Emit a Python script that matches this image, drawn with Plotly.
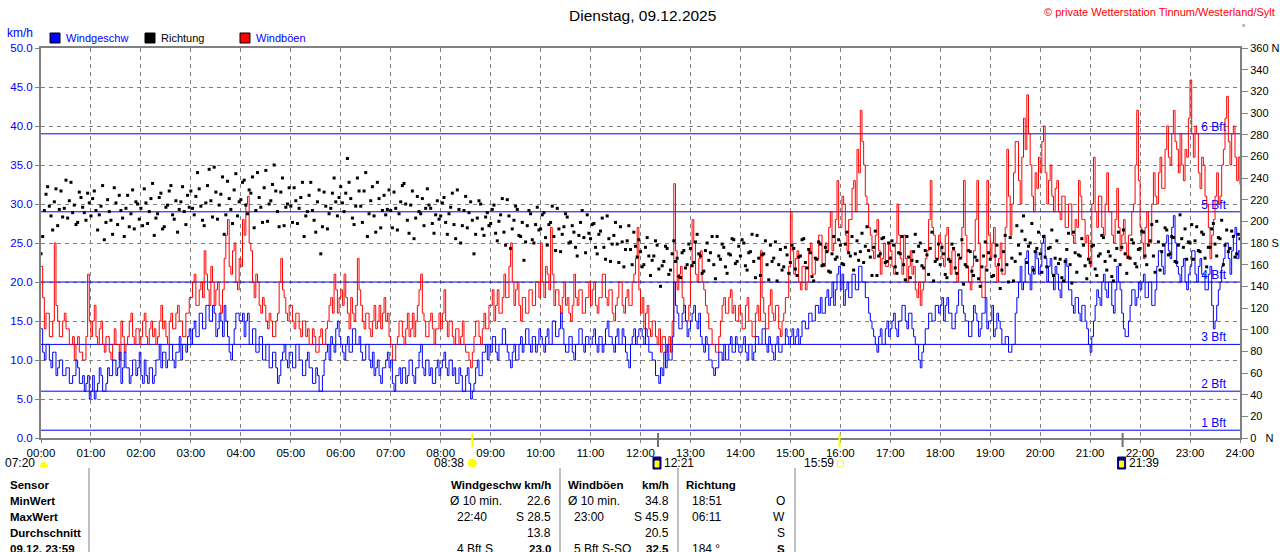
import plotly.graph_objects as go

# Tagesgrafik Wind, Werte alle 2 Minuten
title_text = "Dienstag, 09.12.2025"
copyright_text = "© private Wetterstation Tinnum/Westerland/Sylt"
step_min = 2

wind_kmh = [
    14, 11, 10, 12, 12, 10, 9, 11, 11, 8, 9, 10, 10, 8, 8, 9, 9, 7, 7, 8, 8, 10, 9, 7, 7, 8, 6, 7, 8, 5,  # 00
    6, 8, 5, 6, 7, 9, 8, 6, 6, 7, 9, 8, 8, 10, 10, 8, 9, 11, 7, 9, 11, 9, 9, 7, 8, 10, 10, 8, 9, 11,  # 01
    8, 7, 10, 8, 7, 9, 9, 7, 8, 10, 10, 12, 9, 11, 11, 9, 10, 12, 12, 10, 9, 11, 11, 13, 10, 12, 12, 11, 13, 14,  # 02
    12, 14, 15, 13, 13, 16, 16, 14, 14, 17, 17, 15, 15, 17, 16, 13, 14, 16, 15, 13, 17, 15, 13, 11, 10, 12, 14, 16, 16, 15,  # 03
    15, 16, 13, 15, 16, 12, 12, 14, 14, 11, 11, 13, 13, 10, 10, 12, 12, 9, 9, 11, 11, 9, 7, 8, 10, 11, 12, 10, 9, 11,  # 04
    11, 9, 9, 12, 12, 10, 10, 8, 8, 10, 11, 9, 9, 7, 7, 9, 8, 6, 6, 8, 10, 11, 12, 10, 13, 12, 11, 14, 15, 13,  # 05
    12, 11, 10, 12, 13, 11, 11, 14, 14, 12, 12, 13, 11, 10, 10, 12, 12, 10, 9, 11, 8, 9, 10, 8, 7, 9, 9, 10, 11, 9,  # 06
    10, 7, 6, 8, 8, 9, 7, 9, 9, 7, 8, 10, 10, 8, 7, 9, 9, 11, 12, 9, 8, 10, 10, 8, 9, 7, 7, 9, 10, 8,  # 07
    9, 10, 11, 9, 8, 10, 10, 8, 9, 7, 7, 9, 8, 6, 6, 8, 9, 7, 5, 6, 7, 9, 10, 8, 8, 11, 11, 12, 10, 12,  # 08
    11, 13, 13, 11, 10, 12, 12, 14, 14, 12, 11, 10, 9, 11, 12, 10, 10, 12, 13, 11, 12, 14, 14, 12, 11, 13, 13, 11, 12, 14,  # 09
    13, 12, 11, 13, 14, 12, 12, 15, 15, 13, 13, 14, 16, 14, 12, 11, 11, 13, 13, 11, 10, 12, 12, 14, 14, 12, 11, 13, 13, 12,  # 10
    12, 13, 14, 12, 11, 13, 13, 11, 12, 14, 15, 13, 13, 12, 11, 13, 14, 12, 12, 14, 13, 11, 10, 9, 12, 13, 14, 12, 13, 14,  # 11
    14, 13, 12, 14, 13, 11, 11, 10, 10, 8, 8, 7, 9, 8, 11, 9, 12, 10, 10, 13, 20, 17, 16, 14, 14, 16, 17, 15, 13, 14,  # 12
    15, 16, 17, 15, 14, 16, 13, 12, 11, 13, 12, 10, 10, 9, 8, 9, 9, 11, 11, 10, 12, 10, 10, 12, 13, 11, 11, 13, 12, 11,  # 13
    11, 12, 13, 11, 10, 12, 12, 10, 11, 13, 13, 12, 12, 14, 14, 12, 11, 13, 12, 11, 10, 12, 13, 11, 11, 12, 12, 14, 13, 12,  # 14
    13, 14, 12, 13, 14, 12, 13, 15, 15, 14, 14, 16, 16, 15, 15, 17, 17, 16, 18, 16, 16, 18, 19, 17, 18, 20, 17, 19, 21, 22,  # 15
    19, 21, 17, 19, 20, 18, 18, 21, 21, 19, 19, 22, 22, 20, 20, 18, 18, 16, 15, 14, 13, 12, 11, 13, 14, 12, 12, 14, 15, 13,  # 16
    14, 15, 16, 14, 13, 15, 15, 17, 17, 15, 14, 16, 16, 14, 13, 12, 12, 10, 9, 11, 12, 14, 14, 16, 16, 15, 15, 17, 17, 16,  # 17
    17, 18, 15, 17, 18, 16, 16, 14, 14, 16, 17, 19, 19, 17, 16, 15, 15, 13, 13, 15, 17, 16, 15, 13, 14, 16, 16, 18, 14, 15,  # 18
    15, 17, 13, 14, 16, 15, 14, 12, 12, 13, 13, 11, 11, 12, 12, 16, 18, 20, 22, 19, 20, 23, 24, 21, 19, 22, 21, 24, 23, 21,  # 19
    22, 25, 26, 23, 20, 22, 23, 21, 19, 22, 21, 19, 18, 20, 20, 23, 22, 19, 19, 17, 16, 18, 18, 16, 15, 17, 17, 15, 14, 12,  # 20
    11, 13, 15, 17, 19, 18, 17, 20, 21, 19, 18, 20, 20, 17, 16, 19, 22, 20, 19, 16, 14, 13, 13, 15, 17, 19, 19, 17, 18, 20,  # 21
    19, 20, 21, 18, 18, 20, 20, 17, 17, 19, 22, 24, 24, 22, 21, 25, 26, 24, 23, 27, 28.5, 25, 22, 21, 20, 22, 23, 20, 19, 21,  # 22
    22, 24, 24, 21, 20, 22, 23, 21, 21, 19, 19, 21, 22, 17, 14, 15, 17, 19, 20, 22, 23, 25, 25, 23, 21, 24, 26, 27, 23, 24,  # 23
    23.0,
]

gust_kmh = [
    22, 18, 14, 16, 16, 13, 13, 15, 25, 17, 15, 13, 13, 15, 16, 14, 14, 12, 12, 13, 10, 12, 13, 11, 11, 10, 10, 13, 21, 15,  # 00
    13, 15, 17, 13, 12, 14, 15, 12, 11, 13, 13, 11, 10, 12, 14, 12, 12, 10, 15, 13, 11, 12, 13, 15, 16, 13, 12, 14, 14, 12,  # 01
    13, 15, 16, 13, 12, 14, 15, 13, 14, 12, 13, 15, 17, 14, 15, 13, 12, 15, 16, 14, 14, 16, 17, 15, 15, 13, 13, 16, 16, 18,  # 02
    18, 20, 21, 17, 17, 19, 20, 18, 24, 21, 19, 17, 22, 20, 17, 19, 20, 17, 16, 19, 23, 26, 28, 22, 21, 24, 25, 20, 19, 23,  # 03
    22, 28, 26, 30, 31, 25, 24, 20, 18, 21, 20, 17, 16, 18, 17, 15, 14, 16, 15, 13, 13, 15, 16, 20, 23, 19, 18, 16, 15, 17,  # 04
    17, 15, 14, 16, 16, 14, 13, 15, 15, 13, 14, 12, 12, 14, 13, 11, 11, 13, 14, 12, 12, 14, 15, 17, 18, 16, 21, 19, 16, 18,  # 05
    19, 17, 21, 18, 16, 14, 18, 16, 15, 17, 23, 19, 17, 15, 14, 16, 16, 14, 13, 15, 17, 14, 15, 17, 14, 16, 18, 15, 16, 13,  # 06
    12, 10, 10, 12, 13, 15, 15, 13, 12, 14, 16, 13, 14, 16, 13, 15, 17, 19, 21, 16, 15, 13, 13, 15, 16, 14, 12, 14, 14, 16,  # 07
    14, 16, 19, 15, 13, 15, 15, 13, 12, 14, 14, 12, 13, 15, 12, 11, 11, 10, 9, 11, 13, 15, 15, 13, 12, 14, 16, 14, 14, 17,  # 08
    17, 19, 15, 17, 19, 16, 16, 18, 21, 18, 18, 22, 25, 20, 17, 19, 20, 17, 15, 18, 18, 16, 16, 19, 19, 17, 17, 20, 20, 18,  # 09
    25, 20, 18, 22, 21, 19, 27, 21, 17, 19, 19, 17, 16, 18, 20, 17, 18, 16, 15, 17, 21, 18, 17, 19, 19, 16, 16, 18, 18, 20,  # 10
    17, 19, 20, 17, 16, 18, 18, 21, 21, 18, 17, 19, 19, 16, 15, 17, 18, 20, 20, 17, 16, 18, 19, 17, 17, 20, 21, 23, 27, 19,  # 11
    16, 18, 14, 16, 17, 14, 13, 15, 15, 13, 12, 14, 11, 13, 13, 11, 12, 13, 11, 15, 32.6, 24, 19, 21, 22, 18, 17, 15, 15, 17,  # 12
    22, 28, 25, 21, 20, 23, 24, 20, 19, 17, 16, 14, 14, 12, 12, 11, 11, 13, 15, 17, 18, 16, 16, 18, 19, 16, 17, 15, 15, 17,  # 13
    16, 14, 14, 17, 18, 15, 15, 13, 13, 16, 17, 15, 24, 18, 16, 14, 14, 17, 19, 16, 15, 17, 17, 14, 13, 15, 16, 18, 18, 22,  # 14
    29, 24, 21, 23, 24, 20, 19, 22, 22, 19, 20, 24, 25, 21, 21, 23, 23, 26, 26, 22, 22, 25, 24, 27, 29, 24, 25, 28, 33, 27,  # 15
    27, 31, 30, 26, 24, 28, 28, 32, 33, 29, 37, 34, 42, 38, 35, 31, 30, 27, 26, 24, 23, 26, 28, 24, 21, 23, 25, 22, 22, 25,  # 16
    24, 22, 21, 25, 30, 26, 23, 21, 26, 23, 20, 22, 24, 21, 22, 19, 18, 20, 17, 19, 20, 23, 24, 28, 33, 27, 26, 23, 23, 26,  # 17
    25, 23, 22, 26, 27, 23, 21, 24, 24, 21, 20, 23, 23, 27, 33, 26, 22, 20, 19, 22, 24, 28, 33, 25, 20, 18, 18, 22, 33, 26,  # 18
    23, 25, 27, 22, 20, 23, 25, 21, 21, 27, 37, 31, 26, 30, 34, 38, 38, 33, 30, 36, 41, 37, 44, 39, 35, 31, 29, 34, 32, 36,  # 19
    34, 38, 40, 34, 30, 33, 35, 31, 29, 32, 33, 29, 28, 31, 31, 27, 27, 30, 30, 26, 25, 28, 27, 33, 31, 28, 28, 25, 26, 23,  # 20
    22, 30, 36, 29, 27, 31, 31, 27, 26, 30, 34, 29, 29, 26, 25, 28, 32, 27, 24, 26, 28, 25, 23, 26, 26, 29, 30, 35, 42, 33,  # 21
    27, 25, 23, 27, 29, 25, 25, 30, 34, 31, 30, 34, 36, 32, 32, 37, 40, 36, 35, 39, 42, 38, 37, 34, 39, 35, 33, 37, 36, 41,  # 22
    45.9, 39, 36, 40, 39, 34, 32, 36, 35, 31, 30, 27, 23, 26, 28, 31, 34, 30, 31, 35, 37, 41, 43.8, 38, 35, 39, 40, 36, 33, 36,  # 23
    32.5,
]

dir_deg = [
    170, 186, 210, 225, 232, 214, 205, 192, 218, 230, 196, 211, 228, 204, 212, 238, 203, 219, 236, 208, 215, 197, 199, 227, 222, 213, 208, 201, 226, 217,  # 00
    205, 221, 228, 210, 192, 206, 214, 233, 183, 199, 220, 209, 201, 188, 231, 217, 197, 224, 210, 203, 186, 212, 224, 195, 207, 229, 193, 218, 216, 202,  # 01
    212, 196, 230, 217, 198, 209, 221, 235, 187, 203, 207, 222, 226, 193, 195, 213, 215, 228, 233, 206, 202, 219, 190, 211, 218, 232, 209, 197, 224, 213,  # 02
    228, 212, 206, 223, 245, 230, 214, 201, 196, 217, 233, 248, 219, 204, 250, 227, 202, 215, 225, 241, 188, 206, 237, 221, 211, 198, 229, 244, 205, 218,  # 03
    220, 236, 238, 215, 207, 229, 226, 241, 194, 210, 245, 222, 213, 199, 231, 247, 200, 216, 219, 234, 252, 228, 209, 195, 227, 240, 196, 213, 216, 231,  # 04
    214, 199, 231, 219, 198, 212, 222, 236, 186, 205, 209, 224, 236, 210, 201, 190, 218, 229, 170, 195, 227, 214, 193, 207, 212, 226, 240, 218, 205, 222,  # 05
    232, 217, 209, 226, 258, 236, 221, 203, 197, 214, 240, 228, 214, 199, 228, 245, 186, 207, 219, 232, 205, 190, 236, 221, 194, 210, 224, 206, 211, 229,  # 06
    210, 194, 227, 212, 192, 207, 218, 233, 235, 216, 201, 189, 215, 228, 184, 203, 223, 209, 207, 221, 196, 212, 230, 215, 212, 198, 189, 206, 219, 202,  # 07
    205, 217, 222, 199, 188, 207, 213, 226, 197, 184, 229, 211, 180, 196, 210, 223, 194, 208, 218, 201, 170, 188, 203, 219, 216, 193, 187, 204, 208, 196,  # 08
    198, 211, 215, 189, 182, 200, 206, 221, 190, 178, 220, 205, 175, 193, 201, 214, 211, 187, 186, 199, 164, 181, 196, 210, 207, 183, 180, 197, 213, 192,  # 09
    193, 206, 208, 185, 178, 197, 199, 214, 186, 173, 212, 193, 172, 188, 195, 207, 204, 180, 181, 196, 190, 176, 168, 187, 199, 210, 185, 171, 206, 189,  # 10
    184, 197, 198, 176, 170, 188, 191, 203, 176, 165, 205, 184, 163, 179, 187, 199, 179, 162, 195, 181, 158, 174, 182, 196, 174, 160, 190, 177, 167, 183,  # 11
    172, 158, 160, 176, 185, 168, 150, 164, 168, 182, 178, 156, 140, 159, 163, 177, 175, 151, 155, 170, 182, 163, 166, 149, 148, 171, 173, 157, 160, 179,  # 12
    175, 159, 162, 181, 188, 170, 168, 152, 154, 173, 180, 164, 171, 186, 160, 147, 186, 168, 165, 179, 176, 158, 152, 170, 169, 184, 183, 161, 163, 177,  # 13
    168, 183, 180, 159, 155, 171, 172, 188, 163, 148, 187, 166, 150, 169, 170, 182, 160, 146, 178, 163, 166, 181, 145, 160, 174, 155, 158, 176, 169, 152,  # 14
    162, 178, 175, 156, 150, 167, 168, 183, 184, 162, 157, 174, 171, 149, 145, 166, 165, 181, 179, 159, 160, 176, 172, 154, 153, 170, 186, 165, 167, 183,  # 15
    178, 161, 160, 179, 190, 171, 168, 186, 155, 170, 182, 164, 172, 189, 162, 177, 195, 173, 167, 150, 176, 191, 150, 168, 170, 184, 185, 162, 163, 180,  # 16
    166, 182, 178, 158, 152, 171, 170, 186, 160, 146, 186, 167, 148, 164, 172, 188, 163, 177, 180, 159, 157, 173, 169, 151, 175, 190, 145, 163, 165, 179,  # 17
    160, 176, 170, 151, 148, 165, 163, 179, 175, 157, 152, 169, 166, 183, 142, 160, 158, 173, 172, 154, 150, 167, 164, 147, 140, 158, 168, 181, 155, 171,  # 18
    165, 149, 150, 168, 178, 160, 138, 155, 172, 187, 160, 144, 185, 166, 145, 163, 196, 178, 170, 191, 205, 183, 162, 177, 180, 198, 155, 172, 175, 190,  # 19
    170, 153, 186, 167, 158, 175, 176, 192, 150, 166, 182, 161, 165, 148, 145, 163, 174, 189, 160, 143, 190, 171, 153, 169, 168, 184, 178, 159, 147, 165,  # 20
    162, 177, 178, 156, 150, 168, 170, 187, 185, 163, 155, 172, 168, 149, 145, 164, 175, 190, 160, 176, 192, 170, 152, 167, 166, 183, 180, 161, 158, 174,  # 21
    175, 191, 190, 168, 160, 178, 182, 197, 168, 153, 200, 181, 155, 172, 178, 194, 192, 169, 170, 186, 185, 163, 162, 178, 206, 184, 176, 193, 165, 181,  # 22
    180, 197, 165, 182, 195, 173, 172, 190, 188, 166, 158, 176, 176, 193, 198, 179, 168, 185, 184, 201, 160, 178, 192, 172, 175, 191, 186, 167, 170, 188,  # 23
    184,
]

# Beaufort-Grenzen in km/h
bft_kmh = [1, 6, 12, 20, 29, 39]
bft_names = ["1 Bft", "2 Bft", "3 Bft", "4 Bft", "5 Bft", "6 Bft"]

hour_labels = ["%02d:00" % h for h in range(25)]
dir_ticks = list(range(0, 361, 20))
dir_labels = [str(d) for d in dir_ticks]
dir_labels[0] = "0\u00a0\u00a0\u00a0N"
dir_labels[9] = "180 S"
dir_labels[18] = "360 N"

# Sonnen-/Mondzeiten
sun_rise, sun_set = "08:38", "15:59"
moon_set, moon_rise = "12:21", "21:39"
dawn = "07:20"

# Tabelle unten
tab_sensor = ["Sensor", "MinWert", "MaxWert", "Durchschnitt", "09.12. 23:59"]
wg_left = ["", "Ø 10 min.", "22:40", "", "4 Bft S"]
wg_right = ["Windgeschw km/h", "22.6", "S 28.5", "13.8", "23.0"]
wb_left = ["Windböen", "Ø 10 min.", "23:00", "", "5 Bft S-SO"]
wb_right = ["km/h", "34.8", "S 45.9", "20.5", "32.5"]
ri_left = ["Richtung", "18:51", "06:11", "", "184 °"]
ri_right = ["", "O", "W", "S", "S"]

FONT = "Liberation Sans, Arial, sans-serif"
GRAY = "#808080"
BLUE = "#0000FF"
RED = "#FF0000"

L, R, T, B = 41, 1240, 48, 438


def hm(s):
    h, m = s.split(":")
    return int(h) + int(m) / 60


def pxx(px):
    return (px - L) / (R - L)


def pxy(py):
    return (B - py) / (B - T)


t = [i * step_min / 60 for i in range(len(wind_kmh))]

fig = go.Figure()

# Beaufort-Linien und Beschriftung (unter den Messwerten)
for v in bft_kmh:
    fig.add_trace(go.Scatter(x=[0, 24], y=[v, v], mode="lines",
                             line=dict(color=BLUE, width=1), hoverinfo="skip"))
fig.add_trace(go.Scatter(x=[23.72] * len(bft_kmh), y=bft_kmh, mode="text",
                         text=bft_names, textposition="top left",
                         textfont=dict(family=FONT, size=12, color=BLUE),
                         hoverinfo="skip", cliponaxis=False))

fig.add_trace(go.Scatter(x=t, y=gust_kmh, mode="lines", name="Windböen",
                         line=dict(color=RED, width=1, shape="hv")))
fig.add_trace(go.Scatter(x=t, y=wind_kmh, mode="lines", name="Windgeschw",
                         line=dict(color=BLUE, width=1, shape="hv")))
fig.add_trace(go.Scatter(x=t, y=dir_deg, mode="markers", name="Richtung",
                         yaxis="y2",
                         marker=dict(color="black", size=3, symbol="square",
                                     line=dict(width=0))))

shapes = []
ann = []


def text(px, py, s, color="black", size=12, xanchor="left", bold=False):
    if bold:
        s = "<b>%s</b>" % s
    ann.append(dict(xref="paper", yref="paper", x=pxx(px), y=pxy(py),
                    text=s, showarrow=False, xanchor=xanchor, yanchor="middle",
                    font=dict(family=FONT, size=size, color=color)))


def rect(x0, y0, x1, y1, fill, line="black", width=1):
    shapes.append(dict(type="rect", xref="paper", yref="paper",
                       x0=pxx(x0), x1=pxx(x1), y0=pxy(y0), y1=pxy(y1),
                       fillcolor=fill, line=dict(color=line, width=width)))


# Kopf
text(642, 15, title_text, size=15.5, xanchor="center")
text(1277, 12, copyright_text, color=RED, size=11, xanchor="right")
text(1243, 28, "°", size=8, xanchor="center")
text(5, 33, "km/h", color=BLUE)
rect(50, 33, 60, 43, BLUE)
text(64, 38, "Windgeschw", color=BLUE, size=11)
rect(145, 33, 155, 43, "black")
text(159, 38, "Richtung", size=11)
rect(240, 33, 250, 43, RED)
text(254, 38, "Windböen", color=BLUE, size=11)

# Marken für Sonne und Mond an der Zeitachse
for tm, col in [(sun_rise, "#FFFF00"), (moon_set, "#707070"),
                (sun_set, "#FFFF00"), (moon_rise, "#707070")]:
    shapes.append(dict(type="line", xref="x", yref="paper", x0=hm(tm), x1=hm(tm),
                       y0=pxy(433), y1=pxy(447), line=dict(color=col, width=2)))

text(37, 463, dawn, xanchor="right")
shapes.append(dict(type="path", xref="paper", yref="paper",
                   path="M %f,%f Q %f,%f %f,%f Z" % (pxx(40), pxy(467), pxx(44), pxy(457),
                                                     pxx(48), pxy(467)),
                   fillcolor="#FFFF00", line=dict(color="#FFFF00", width=1)))
xs = L + hm(sun_rise) * (R - L) / 24
text(xs - 6, 463, sun_rise, xanchor="right")
shapes.append(dict(type="circle", xref="paper", yref="paper",
                   x0=pxx(xs - 4), x1=pxx(xs + 4), y0=pxy(459), y1=pxy(467),
                   fillcolor="#FFFF00", line=dict(color="#FFFF00", width=1)))
for tm in (moon_set, moon_rise):
    xm = L + hm(tm) * (R - L) / 24
    rect(xm - 5, 457, xm + 3, 469, "#000080", line="#000080")
    rect(xm - 3, 461, xm + 1, 467, "#FFFF00", line="#FFFF00")
    text(xm + 4, 463, tm)
xs = L + hm(sun_set) * (R - L) / 24
text(xs - 4, 463, sun_set, xanchor="right")
rect(xs - 2, 461, xs + 4, 467, "white", line="#FFFF00")

# Tabelle
for xv in (89, 560, 678, 795):
    shapes.append(dict(type="line", xref="paper", yref="paper", x0=pxx(xv), x1=pxx(xv),
                       y0=pxy(468), y1=pxy(552), line=dict(color=GRAY, width=1)))

BS = 11.5
for i in range(5):
    y = 485 + 16 * i
    head = i == 0
    last = i == 4
    text(8, y, tab_sensor[i], bold=True, size=BS)
    text(448 if i == 1 else 455, y, wg_left[i])
    text(553, y, wg_right[i], xanchor="right", bold=head or last,
         size=BS if head or last else 12)
    text(566 if i < 2 else 572, y, wb_left[i], bold=head, size=BS if head else 12)
    text(671, y, wb_right[i], xanchor="right", bold=head or last,
         size=BS if head or last else 12)
    text(684 if i == 0 else 690, y, ri_left[i], bold=head, size=BS if head else 12)
    text(787, y, ri_right[i], xanchor="right", bold=last, size=BS if last else 12)

fig.update_layout(
    width=1280, height=552,
    margin=dict(l=L, r=1280 - R, t=T, b=552 - B, autoexpand=False),
    paper_bgcolor="white", plot_bgcolor="white",
    showlegend=False,
    font=dict(family=FONT, size=12, color="black"),
    shapes=shapes, annotations=ann,
    xaxis=dict(range=[0, 24], tickvals=list(range(25)), ticktext=hour_labels,
               showgrid=True, gridcolor=GRAY, griddash="4px,4px", gridwidth=1,
               showline=True, linecolor=GRAY, linewidth=2, mirror=True,
               zeroline=False, ticks="outside", ticklen=3, tickcolor=GRAY,
               automargin=False, tickfont=dict(size=11.5, color="black")),
    yaxis=dict(range=[0, 50], dtick=5, tickformat=".1f",
               tickfont=dict(size=11.5, color=BLUE),
               showgrid=True, gridcolor=GRAY, griddash="4px,4px", gridwidth=1,
               showline=True, linecolor=GRAY, linewidth=2, mirror=True,
               zeroline=False, ticks="outside", ticklen=4, tickcolor=GRAY,
               automargin=False),
    yaxis2=dict(range=[0, 360], overlaying="y", side="right",
                tickvals=dir_ticks, ticktext=dir_labels,
                tickfont=dict(size=11, color="black"),
                showgrid=False, zeroline=False, showline=True, linecolor=GRAY,
                linewidth=2, ticks="outside", ticklen=6, tickcolor=GRAY,
                automargin=False),
)

fig.write_html("out.html", config={"displayModeBar": False},
               post_script="document.body.style.margin='0px';")
